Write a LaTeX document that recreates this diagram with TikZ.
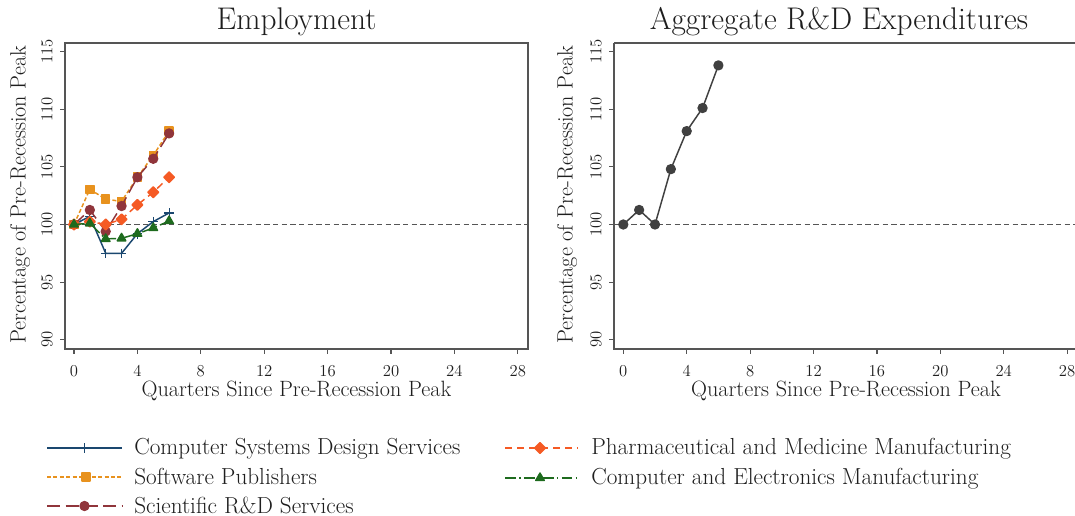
\documentclass[tikz,border=0pt]{standalone}
\usepackage{fontspec}
\usetikzlibrary{plotmarks}
\definecolor{cNavy}{HTML}{1A476F}
\definecolor{cOrange}{HTML}{E8921E}
\definecolor{cMaroon}{HTML}{90353B}
\definecolor{cPharma}{HTML}{F55A24}
\definecolor{cGreen}{HTML}{1E6B1E}
\definecolor{cAgg}{HTML}{404040}
\definecolor{cAxis}{HTML}{555555}
\definecolor{cText}{HTML}{1E1E1E}
\tikzset{
  axisline/.style={cAxis, line width=1.1pt},
  tickline/.style={cAxis, line width=0.9pt},
  refline/.style={cAxis, line width=0.8pt, dash pattern=on 4pt off 2.5pt},
  titletext/.style={text=cText, font=\fontsize{23.5}{28}\selectfont, inner sep=0pt},
  labeltext/.style={text=cText, font=\fontsize{16.6}{20}\selectfont, inner sep=0pt},
  ticktext/.style={text=cText, font=\fontsize{12.5}{15}\selectfont, inner sep=0pt},
  legtext/.style={text=cText, font=\fontsize{17.4}{21}\selectfont, inner sep=0pt, anchor=base west},
  series/.style={line width=1.1pt, line join=round},
  csd/.style={series, cNavy, mark=+, mark size=3.6pt, mark options={solid, line width=0.9pt}},
  sp/.style={series, cOrange, dash pattern=on 3pt off 1.8pt, mark=square*, mark size=3pt, mark options={solid}},
  srd/.style={series, cMaroon, dash pattern=on 10pt off 4pt, mark=*, mark size=3.3pt, mark options={solid}},
  ph/.style={series, cPharma, dash pattern=on 5.5pt off 3.5pt, mark=square*, mark size=2.8pt, mark options={solid, rotate=45}},
  gr/.style={series, cGreen, dash pattern=on 8pt off 2.5pt on 1.2pt off 2.5pt, mark=triangle*, mark size=3.7pt, mark options={solid}},
  agg/.style={series, cAgg, mark=*, mark size=3.3pt, mark options={solid}},
  dataaxes/.style={x=11.8875pt, y=8.6475pt}
}
\begin{document}
\begin{tikzpicture}[x=0.75pt, y=-0.75pt]
\useasboundingbox (0,0) rectangle (1075,516);
\fill[white] (0,0) rectangle (1075,516);

% ---------- titles ----------
\node[titletext, anchor=base] (t1) at (296.5,30) {Employment};
\node[titletext, anchor=base] (t2) at (839,30) {Aggregate R\&D Expenditures};

% ---------- left panel frame ----------
\draw[axisline] (65,43) rectangle (528,349);
\draw[refline] (65,224.5) -- (528,224.5);
\foreach \v in {90,95,100,105,110,115}{
  \draw[tickline] (60,{224.5-11.53*(\v-100)}) -- (65,{224.5-11.53*(\v-100)});
  \node[ticktext, rotate=90] at (47,{224.5-11.53*(\v-100)}) {\v};
}
\foreach \q in {0,4,...,28}{
  \draw[tickline] ({74+15.85*\q},349) -- ({74+15.85*\q},354);
  \node[ticktext, anchor=base] at ({74+15.85*\q},377) {\q};
}
\node[labeltext, rotate=90] (yl1) at (20,195) {Percentage of Pre-Recession Peak};
\node[labeltext, anchor=base] (xl1) at (296.5,397) {Quarters Since Pre-Recession Peak};

% ---------- right panel frame ----------
\draw[axisline] (614,43) -- (614,349) -- (1080,349);
\draw[axisline] (614,43) -- (1080,43);
\draw[refline] (614,224.5) -- (1080,224.5);
\foreach \v in {90,95,100,105,110,115}{
  \draw[tickline] (609,{224.5-11.53*(\v-100)}) -- (614,{224.5-11.53*(\v-100)});
  \node[ticktext, rotate=90] at (596,{224.5-11.53*(\v-100)}) {\v};
}
\foreach \q in {0,4,...,28}{
  \draw[tickline] ({623.3+15.85*\q},349) -- ({623.3+15.85*\q},354);
  \node[ticktext, anchor=base] at ({623.3+15.85*\q},377) {\q};
}
\node[labeltext, rotate=90] (yl2) at (567,195) {Percentage of Pre-Recession Peak};
\node[labeltext, anchor=base] (xl2) at (846,397) {Quarters Since Pre-Recession Peak};

% ---------- left data ----------
\begin{scope}[shift={(55.5pt,-168.375pt)}, dataaxes]
\draw[csd] plot coordinates {(0,0) (1,0.7) (2,-2.5) (3,-2.5) (4,-0.8) (5,0.25) (6,1.0)};
\draw[sp]  plot coordinates {(0,0) (1,3.05) (2,2.2) (3,2.0) (4,4.1) (5,6.0) (6,8.1)};
\draw[srd] plot coordinates {(0,0) (1,1.26) (2,-0.6) (3,1.6) (4,4.1) (5,5.7) (6,7.9)};
\draw[ph]  plot coordinates {(0,0) (1,0.25) (2,0.0) (3,0.45) (4,1.7) (5,2.8) (6,4.1)};
\draw[gr]  plot coordinates {(0,0) (1,0.1) (2,-1.25) (3,-1.2) (4,-0.8) (5,-0.3) (6,0.3)};
\end{scope}

% ---------- right data ----------
\begin{scope}[shift={(467.475pt,-168.375pt)}, dataaxes]
\draw[agg] plot coordinates {(0,0) (1,1.26) (2,0) (3,4.8) (4,8.1) (5,10.1) (6,13.8)};
\end{scope}

% ---------- legend ----------
\draw[csd, mark indices={2}] plot coordinates {(47,448) (84.5,448) (122,448)};
\node[legtext] (l1) at (134,455) {Computer Systems Design Services};
\draw[sp, mark indices={2}] plot coordinates {(47,477) (86,477) (122,477)};
\node[legtext] (l2) at (134,484) {Software Publishers};
\draw[srd, mark indices={2}] plot coordinates {(47,506) (84.5,506) (122,506)};
\node[legtext] (l3) at (134,513) {Scientific R\&D Services};
\draw[ph, mark indices={2}] plot coordinates {(505,448) (540,448) (578,448)};
\node[legtext] (l4) at (591,455) {Pharmaceutical and Medicine Manufacturing};
\draw[gr, mark indices={2}] plot coordinates {(505,478) (540,478) (578,478)};
\node[legtext] (l5) at (591,485) {Computer and Electronics Manufacturing};
\end{tikzpicture}
\end{document}
